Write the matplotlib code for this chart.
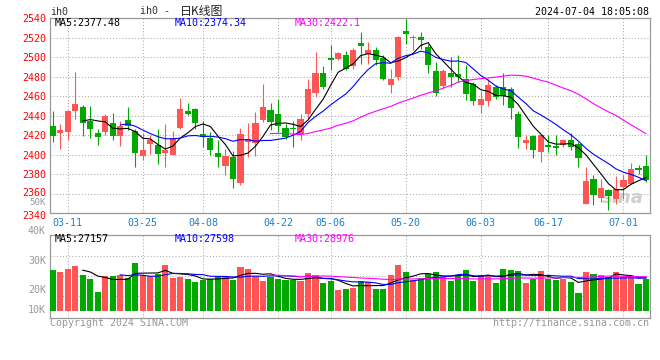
import matplotlib
matplotlib.use('Agg')
import matplotlib.pyplot as plt
import numpy as np
import pandas as pd

# ---------------- data ----------------
dates = (["03-07", "03-08", "03-11", "03-12", "03-13", "03-14", "03-15", "03-18", "03-19", "03-20",
          "03-21", "03-22", "03-25", "03-26", "03-27", "03-28", "03-29"] +
         ["04-01", "04-02", "04-03", "04-08", "04-09", "04-10", "04-11", "04-12", "04-15", "04-16",
          "04-17", "04-18", "04-19", "04-22", "04-23", "04-24", "04-25", "04-26", "04-29", "04-30"] +
         ["05-06", "05-07", "05-08", "05-09", "05-10", "05-13", "05-14", "05-15", "05-16", "05-17",
          "05-20", "05-21", "05-22", "05-23", "05-24", "05-27", "05-28", "05-29", "05-30", "05-31"] +
         ["06-03", "06-04", "06-05", "06-06", "06-07", "06-11", "06-12", "06-13", "06-14", "06-17",
          "06-18", "06-19", "06-20", "06-21", "06-24", "06-25", "06-26", "06-27", "06-28"] +
         ["07-01", "07-02", "07-03", "07-04"])

opens = [2429.2, 2422.4, 2423.4, 2444.6, 2448.7, 2435.1, 2422.1, 2423.4, 2433.0, 2419.3,
         2435.4, 2424.1, 2398.5, 2410.8, 2409.8, 2402.2, 2400.2, 2427.5, 2445.3, 2446.7,
         2421.0, 2417.3, 2401.5, 2388.5, 2397.8, 2370.8, 2413.2, 2412.2, 2435.4, 2446.3,
         2442.2, 2427.9, 2427.9, 2421.7, 2442.2, 2463.0, 2484.3, 2499.3, 2498.0, 2502.1,
         2490.8, 2514.5, 2503.8, 2507.2, 2499.3, 2471.5, 2479.5, 2526.7, 2519.5, 2520.5,
         2510.3, 2485.6, 2470.6, 2484.3, 2483.3, 2478.2, 2472.3, 2451.5, 2455.2, 2469.6,
         2469.6, 2467.2, 2441.6, 2412.2, 2419.3, 2402.9, 2409.8, 2408.7, 2409.8, 2414.9,
         2411.5, 2349.6, 2375.6, 2355.7, 2363.6, 2354.4, 2367.0, 2370.4, 2386.2, 2388.2]
highs = [2444.6, 2431.3, 2445.5, 2485.0, 2450.8, 2450.1, 2426.9, 2442.2, 2443.3, 2434.4,
         2448.7, 2426.9, 2422.8, 2420.0, 2426.9, 2431.3, 2424.1, 2458.3, 2452.8, 2447.5,
         2434.4, 2423.4, 2414.9, 2406.3, 2403.6, 2427.9, 2433.0, 2443.9, 2473.0, 2453.5,
         2457.6, 2432.0, 2434.4, 2442.2, 2477.5, 2505.5, 2491.1, 2513.0, 2505.0, 2506.0,
         2510.0, 2526.0, 2515.7, 2511.0, 2502.0, 2488.4, 2522.0, 2539.5, 2522.6, 2526.0,
         2514.0, 2495.2, 2488.4, 2500.0, 2502.0, 2491.8, 2474.7, 2465.1, 2477.4, 2471.3,
         2484.3, 2469.6, 2444.6, 2420.0, 2420.7, 2421.7, 2420.0, 2420.0, 2416.6, 2422.8,
         2413.2, 2387.5, 2379.0, 2375.6, 2365.3, 2378.3, 2379.7, 2391.6, 2389.2, 2399.5]
lows = [2413.2, 2406.3, 2414.9, 2437.1, 2419.3, 2417.3, 2409.8, 2420.0, 2414.9, 2409.1,
        2425.1, 2387.5, 2394.4, 2401.2, 2391.0, 2387.5, 2399.5, 2426.9, 2440.5, 2426.9,
        2408.0, 2400.2, 2387.5, 2379.0, 2366.0, 2368.7, 2397.8, 2398.8, 2433.7, 2425.1,
        2423.4, 2415.9, 2408.0, 2414.9, 2437.1, 2459.3, 2467.9, 2486.7, 2497.5, 2486.7,
        2488.4, 2493.0, 2493.5, 2492.0, 2476.5, 2463.0, 2477.0, 2514.0, 2507.2, 2509.0,
        2484.3, 2460.3, 2468.6, 2470.0, 2474.7, 2455.9, 2451.5, 2443.3, 2450.0, 2457.6,
        2450.8, 2437.1, 2407.0, 2405.7, 2396.8, 2392.7, 2402.9, 2399.5, 2408.0, 2404.6,
        2387.5, 2349.6, 2348.2, 2351.6, 2343.8, 2349.9, 2355.0, 2370.4, 2380.7, 2372.1]
closes = [2419.3, 2425.1, 2444.6, 2451.8, 2432.7, 2426.5, 2418.3, 2439.5, 2419.3, 2429.2,
          2429.2, 2401.9, 2405.3, 2415.6, 2401.2, 2405.3, 2417.6, 2446.7, 2442.2, 2433.0,
          2418.6, 2404.6, 2397.4, 2398.8, 2374.9, 2421.7, 2415.9, 2433.0, 2448.7, 2433.7,
          2429.6, 2418.3, 2426.2, 2437.1, 2467.2, 2484.3, 2469.6, 2497.3, 2504.8, 2487.7,
          2507.0, 2512.0, 2507.2, 2497.3, 2478.2, 2477.4, 2520.8, 2524.3, 2520.2, 2518.2,
          2491.8, 2463.8, 2485.6, 2479.8, 2479.8, 2462.1, 2455.2, 2456.9, 2471.3, 2459.3,
          2460.0, 2448.1, 2418.3, 2414.9, 2404.6, 2420.0, 2408.0, 2407.4, 2414.9, 2408.0,
          2396.8, 2372.8, 2358.5, 2366.3, 2357.4, 2365.3, 2373.9, 2385.8, 2384.5, 2373.9]
volumes = [31330, 30440, 31850, 33420, 28710, 26610, 19800, 28180, 28180, 28710,
           27290, 35000, 28860, 28340, 29070, 33950, 27130, 27660, 26610, 25200,
           26240, 26610, 28180, 28180, 26240, 32900, 31850, 28340, 25720, 27500,
           26610, 26240, 25930, 25410, 29750, 28710, 24510, 25720, 20850, 21370,
           22050, 25720, 25040, 21370, 21370, 28710, 33950, 30280, 25980, 27290,
           29390, 30280, 27820, 25560, 28710, 31330, 25560, 28710, 28710, 24510,
           31850, 31330, 30800, 24510, 26510, 30800, 26610, 26140, 26660, 25040,
           19270, 30280, 29230, 28710, 27400, 30280, 27660, 27400, 23990, 26510]

tick_labels = ["03-11", "03-25", "04-08", "04-22", "05-06", "05-20", "06-03", "06-17", "07-01"]
price_ticks = [2340, 2360, 2380, 2400, 2420, 2440, 2460, 2480, 2500, 2520, 2540]
vol_labels = ["40K", "30K", "20K", "10K"]

price_legend = ["MA5:2377.48", "MA10:2374.34", "MA30:2422.1"]
vol_legend = ["MA5:27157", "MA10:27598", "MA30:28976"]

# ---------------- style ----------------
RED = '#ff5555'
GREEN = '#00a800'
GRID = '#aaaaaa'
FRAME = '#999999'
GRAY = '#999999'
BLUE_TXT = '#1a80d0'
MONO = 'DejaVu Sans Mono'
FS = 7.2

W, H = 660, 360
fig = plt.figure(figsize=(6.6, 3.6), dpi=100)
fig.patch.set_facecolor('white')


def fx(px):
    return px / W


def fy(py):
    return 1 - py / H


L, R = 50.0, 649.7
ax = fig.add_axes([fx(L), fy(213.3), (R - L) / W, (213.3 - 18.3) / H])
axv = fig.add_axes([fx(L), fy(318.0), (R - L) / W, (318.0 - 234.7) / H])

n = len(closes)
x = np.arange(n)
o = np.array(opens)
c = np.array(closes)
hi = np.array(highs)
lo = np.array(lows)
v = np.array(volumes)
up = c >= o
cols = np.where(up, RED, GREEN)

xlim = (-0.36, 79.49)
tick_idx = [dates.index(t) for t in tick_labels]

# ---------------- price panel ----------------
ax.vlines(x, lo, hi, colors=cols, lw=0.8, zorder=3)
body_h = np.maximum(np.abs(c - o), 1.0)
ax.bar(x, body_h, bottom=np.minimum(o, c), width=0.82, color=cols, lw=0, zorder=4)

cs = pd.Series(closes)
for win, col in [(5, 'black'), (10, '#0000ff'), (30, '#ff00ff')]:
    ax.plot(x, cs.rolling(win).mean(), color=col, lw=0.8, zorder=5)

ax.set_xlim(*xlim)
ax.set_ylim(2340, 2540)
ax.set_yticks(price_ticks)
ax.set_yticklabels([str(t) for t in price_ticks], color='#ff0000', family=MONO, fontsize=FS)
ax.set_xticks(tick_idx)
ax.set_xticklabels(tick_labels, color=BLUE_TXT, family=MONO, fontsize=FS)
ax.tick_params(axis='both', length=0)
ax.tick_params(axis='y', pad=3.0)
ax.tick_params(axis='x', pad=3.2)
ax.grid(True, color=GRID, lw=0.75, ls=(0, (1, 2)), zorder=0)
ax.set_axisbelow(True)
for s in ax.spines.values():
    s.set_color(FRAME)
    s.set_linewidth(0.9)

# nudge the two lowest price labels apart to leave room for the "50K" label
ylabs = ax.get_yticklabels()
import matplotlib.transforms as mtransforms
ylabs[0].set_transform(ylabs[0].get_transform() + mtransforms.ScaledTranslation(0, -1.5 / 100, fig.dpi_scale_trans))
ylabs[1].set_transform(ylabs[1].get_transform() + mtransforms.ScaledTranslation(0, 1.5 / 100, fig.dpi_scale_trans))

# legend text of price panel
for txt, px, col in zip(price_legend, [54.3, 175, 295], ['black', '#0000ff', '#ff00ff']):
    fig.text(fx(px), fy(23.5), txt, color=col, family=MONO, fontsize=FS, va='center', ha='left')

# sina watermark
ax.text(0.99, 0.03, 'sina', transform=ax.transAxes, ha='right', va='bottom',
        fontsize=13, fontstyle='italic', fontweight='bold', color='#cfcfcf', zorder=2)

# ---------------- volume panel ----------------
vbase = 10000
axv.bar(x, v - vbase, bottom=vbase, width=0.82, color=cols, lw=0, zorder=3)
vs = pd.Series(volumes)
for win, col in [(5, 'black'), (10, '#0000ff'), (30, '#ff00ff')]:
    axv.plot(x, vs.rolling(win).mean(), color=col, lw=0.8, zorder=5)
axv.set_xlim(*xlim)
axv.set_ylim(6175, 49667)
axv.set_xticks(tick_idx)
axv.set_xticklabels([])
axv.set_yticks([17700, 28180, 38660])
axv.set_yticklabels([])
axv.tick_params(axis='both', length=0)
axv.grid(True, color=GRID, lw=0.75, ls=(0, (1, 2)), zorder=0)
axv.set_axisbelow(True)
for s in axv.spines.values():
    s.set_color(FRAME)
    s.set_linewidth(0.9)

for txt, px, col in zip(vol_legend, [54.3, 175, 295], ['black', '#0000ff', '#ff00ff']):
    fig.text(fx(px), fy(238.5), txt, color=col, family=MONO, fontsize=FS, va='center', ha='left')

for txt, py in zip(vol_labels, [231, 261, 290, 310]):
    fig.text(fx(46), fy(py), txt, color=GRAY, family=MONO, fontsize=FS, ha='right', va='center')
fig.text(fx(46), fy(202.5), '50K', color=GRAY, family=MONO, fontsize=6.6, ha='right', va='center')

# ---------------- header / footer ----------------
fig.text(fx(50.5), fy(12), 'ih0', color='#333333', family=MONO, fontsize=FS, ha='left', va='center')
fig.text(fx(140), fy(11.5), 'ih0 -', color='#333333', family=MONO, fontsize=FS, ha='left', va='center')
fig.text(fx(180), fy(11.5), '日K线图', color='#222222', family=['Noto Sans CJK SC', 'DejaVu Sans'],
         fontsize=8.6, ha='left', va='center')
fig.text(fx(649), fy(12), '2024-07-04 18:05:08', color='black', family=MONO, fontsize=FS,
         ha='right', va='center')
fig.text(fx(50), fy(323.5), 'Copyright 2024 SINA.COM', color=GRAY, family=MONO, fontsize=FS,
         ha='left', va='center')
fig.text(fx(649), fy(323.5), 'http://finance.sina.com.cn', color=GRAY, family=MONO, fontsize=FS,
         ha='right', va='center')

fig.savefig('out.png', dpi=100)
